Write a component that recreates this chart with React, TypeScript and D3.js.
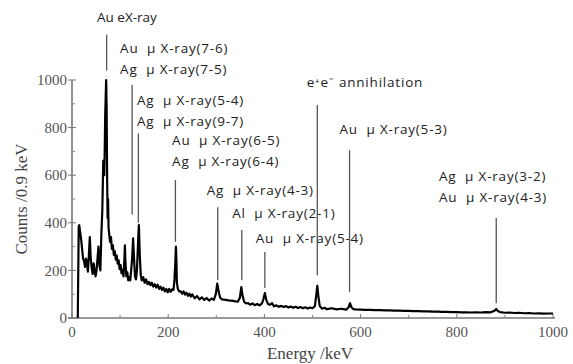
import * as d3 from "d3";

// spectrum points: [energy keV, counts / 0.9 keV]
const spectrum: [number, number][] = [
  [12, 0], [14, 385], [15, 390], [17, 360], [19, 330], [21, 290], [23, 250], [25, 240], [27, 215], [29, 250],
  [31, 230], [33, 195], [35, 260], [37, 340], [39, 250], [41, 210], [43, 185], [45, 230],
  [47, 200], [49, 175], [51, 200], [53, 250], [55, 300], [57, 220], [59, 200], [61, 350],
  [63, 450], [65, 660], [67, 600], [68, 700], [69, 850], [71, 1000], [72, 880], [73, 600],
  [74, 420], [75, 500], [76, 380], [77, 360], [79, 320], [81, 340], [83, 290], [85, 305],
  [87, 265], [89, 280], [91, 245], [93, 262], [95, 228], [97, 242], [99, 205], [101, 222],
  [103, 188], [105, 202], [107, 175], [109, 250], [110, 305], [111, 240], [113, 175], [115, 192],
  [117, 158], [119, 172], [121, 158], [123, 200], [125, 250], [127, 335], [129, 250], [131, 175],
  [133, 162], [135, 200], [137, 300], [139, 390], [141, 260], [143, 180], [145, 158], [148, 172],
  [151, 148], [154, 162], [157, 142], [160, 152], [163, 138], [166, 148], [169, 132], [172, 142],
  [175, 128], [178, 140], [181, 122], [184, 132], [187, 118], [190, 127], [193, 112], [196, 122],
  [199, 108], [202, 122], [205, 110], [208, 120], [211, 118], [213, 160], [215, 240], [216, 300],
  [217, 250], [218, 150], [220, 122], [223, 112], [226, 112], [229, 102], [232, 112], [235, 98],
  [238, 106], [241, 93], [244, 102], [247, 90], [250, 99], [255, 83], [260, 92], [265, 78],
  [270, 87], [275, 76], [280, 84], [285, 73], [290, 82], [295, 76], [299, 100], [302, 145],
  [305, 110], [308, 85], [312, 78], [316, 77], [320, 76], [325, 74], [330, 73], [335, 72],
  [340, 70], [345, 69], [349, 85], [352, 130], [355, 90], [358, 68], [362, 61], [366, 63],
  [370, 56], [375, 61], [380, 54], [385, 59], [390, 53], [395, 61], [398, 80], [401, 105],
  [404, 75], [408, 58], [412, 56], [416, 62], [420, 49], [425, 53], [430, 47], [435, 51],
  [440, 46], [445, 50], [450, 44], [455, 48], [460, 43], [465, 47], [470, 42], [475, 46],
  [480, 41], [485, 45], [490, 40], [495, 44], [500, 41], [505, 50], [508, 100], [510, 135],
  [512, 95], [515, 50], [520, 39], [525, 43], [530, 37], [540, 41], [550, 36], [560, 39],
  [570, 35], [575, 45], [578, 62], [581, 45], [585, 37], [590, 36], [600, 35], [610, 34],
  [620, 34], [630, 33], [640, 33], [650, 32], [660, 32], [670, 31], [680, 31], [690, 30],
  [700, 30], [710, 29], [720, 29], [730, 28], [740, 28], [750, 27], [760, 27], [770, 26],
  [780, 26], [790, 25], [800, 25], [810, 24], [820, 24], [830, 23], [840, 24], [850, 23],
  [860, 25], [870, 24], [878, 30], [882, 38], [886, 28], [890, 25], [900, 22], [910, 23],
  [920, 21], [930, 22], [940, 20], [950, 21], [960, 19], [970, 20], [980, 18], [990, 19],
  [1000, 19],
];

// annotation markers: energy, line from/to (counts), label lines
const markerEnergy = [72, 125, 138, 215, 303, 353, 401, 510, 577, 882];
const markerTop = [1190, 980, 775, 580, 465, 370, 277, 895, 705, 420];
const markerBottom = [1040, 435, 400, 320, 160, 160, 126, 180, 110, 62];
const markerLabels: string[][] = [
  ["Au eX-ray"],
  ["Au  \u03BC X-ray(7-6)", "Ag  \u03BC X-ray(7-5)"],
  ["Ag  \u03BC X-ray(5-4)", "Ag  \u03BC X-ray(9-7)"],
  ["Au  \u03BC X-ray(6-5)", "Ag  \u03BC X-ray(6-4)"],
  ["Ag  \u03BC X-ray(4-3)"],
  ["Al  \u03BC X-ray(2-1)"],
  ["Au  \u03BC X-ray(5-4)"],
  ["e\u207Ae\u207B annihilation"],
  ["Au  \u03BC X-ray(5-3)"],
  ["Ag  \u03BC X-ray(3-2)", "Au  \u03BC X-ray(4-3)"],
];
// label anchor in data units (energy of text start, counts of first baseline)
const labelEnergy = [52, 100, 135, 208, 280, 333, 382, 488, 556, 763];
const labelCounts = [1245, 1115, 895, 725, 515, 420, 315, 970, 775, 575];

const xTicks = [0, 200, 400, 600, 800, 1000];
const yTicks = [0, 200, 400, 600, 800, 1000];

export default function App() {
  const W = 573;
  const H = 364;
  const x = d3.scaleLinear().domain([0, 1000]).range([72, 553]);
  const y = d3.scaleLinear().domain([0, 1000]).range([318, 80]);
  const line = d3.line<[number, number]>().x(d => x(d[0])).y(d => y(d[1]));
  const minorX = d3.range(100, 1000, 200);
  const minorY = d3.range(100, 1000, 200);
  const serif = "'Liberation Serif', 'DejaVu Serif', serif";
  const sans = "'Open Sans', 'Liberation Sans', sans-serif";

  return (
    <svg width={W} height={H} style={{ position: "absolute", left: 0, top: 0, background: "#fff" }}>
      {/* axes */}
      <line x1={x(0)} x2={x(0)} y1={y(0) + 1} y2={y(1000)} stroke="#777" strokeWidth={1.6} />
      <line x1={x(0) - 4} x2={x(1000) + 2} y1={y(0)} y2={y(0)} stroke="#777" strokeWidth={1.6} />
      {yTicks.map(t => (
        <g key={"y" + t}>
          <line x1={x(0) - 4} x2={x(0) + 4} y1={y(t)} y2={y(t)} stroke="#777" strokeWidth={1} />
          <text x={x(0) - 5} y={y(t)} dy="0.35em" textAnchor="end" fontFamily={serif} fontSize={15} fill="#555">{t}</text>
        </g>
      ))}
      {minorY.map(t => (
        <line key={"my" + t} x1={x(0)} x2={x(0) + 3} y1={y(t)} y2={y(t)} stroke="#888" strokeWidth={1} />
      ))}
      {xTicks.map(t => (
        <g key={"x" + t}>
          <line x1={x(t)} x2={x(t)} y1={y(0)} y2={y(0) - 4} stroke="#777" strokeWidth={1} />
          <text x={x(t)} y={y(0) + 19} textAnchor="middle" fontFamily={serif} fontSize={15} fill="#555">{t}</text>
        </g>
      ))}
      {minorX.map(t => (
        <line key={"mx" + t} x1={x(t)} x2={x(t)} y1={y(0)} y2={y(0) - 3} stroke="#888" strokeWidth={1} />
      ))}
      <text x={310} y={359} textAnchor="middle" fontFamily={serif} fontSize={17} fill="#444">Energy /keV</text>
      <text transform={`translate(27,${y(500)}) rotate(-90)`} textAnchor="middle" fontFamily={serif} fontSize={17} fill="#444">Counts /0.9 keV</text>

      {/* spectrum */}
      <path d={line(spectrum) ?? ""} fill="none" stroke="#000" strokeWidth={2.2} strokeLinejoin="round" />

      {/* annotations */}
      {markerEnergy.map((e, i) => (
        <g key={"m" + i}>
          <line x1={x(e)} x2={x(e)} y1={y(markerTop[i])} y2={y(markerBottom[i])} stroke="#555" strokeWidth={1.3} />
          {markerLabels[i].map((s, j) => (
            <text key={j} x={x(labelEnergy[i])} y={y(labelCounts[i]) + j * 21} fontFamily={sans} fontSize={13.5}
              letterSpacing={i === 0 ? 0 : 0.8} fill="#222" style={{ whiteSpace: "pre" }}>{s}</text>
          ))}
        </g>
      ))}
    </svg>
  );
}
